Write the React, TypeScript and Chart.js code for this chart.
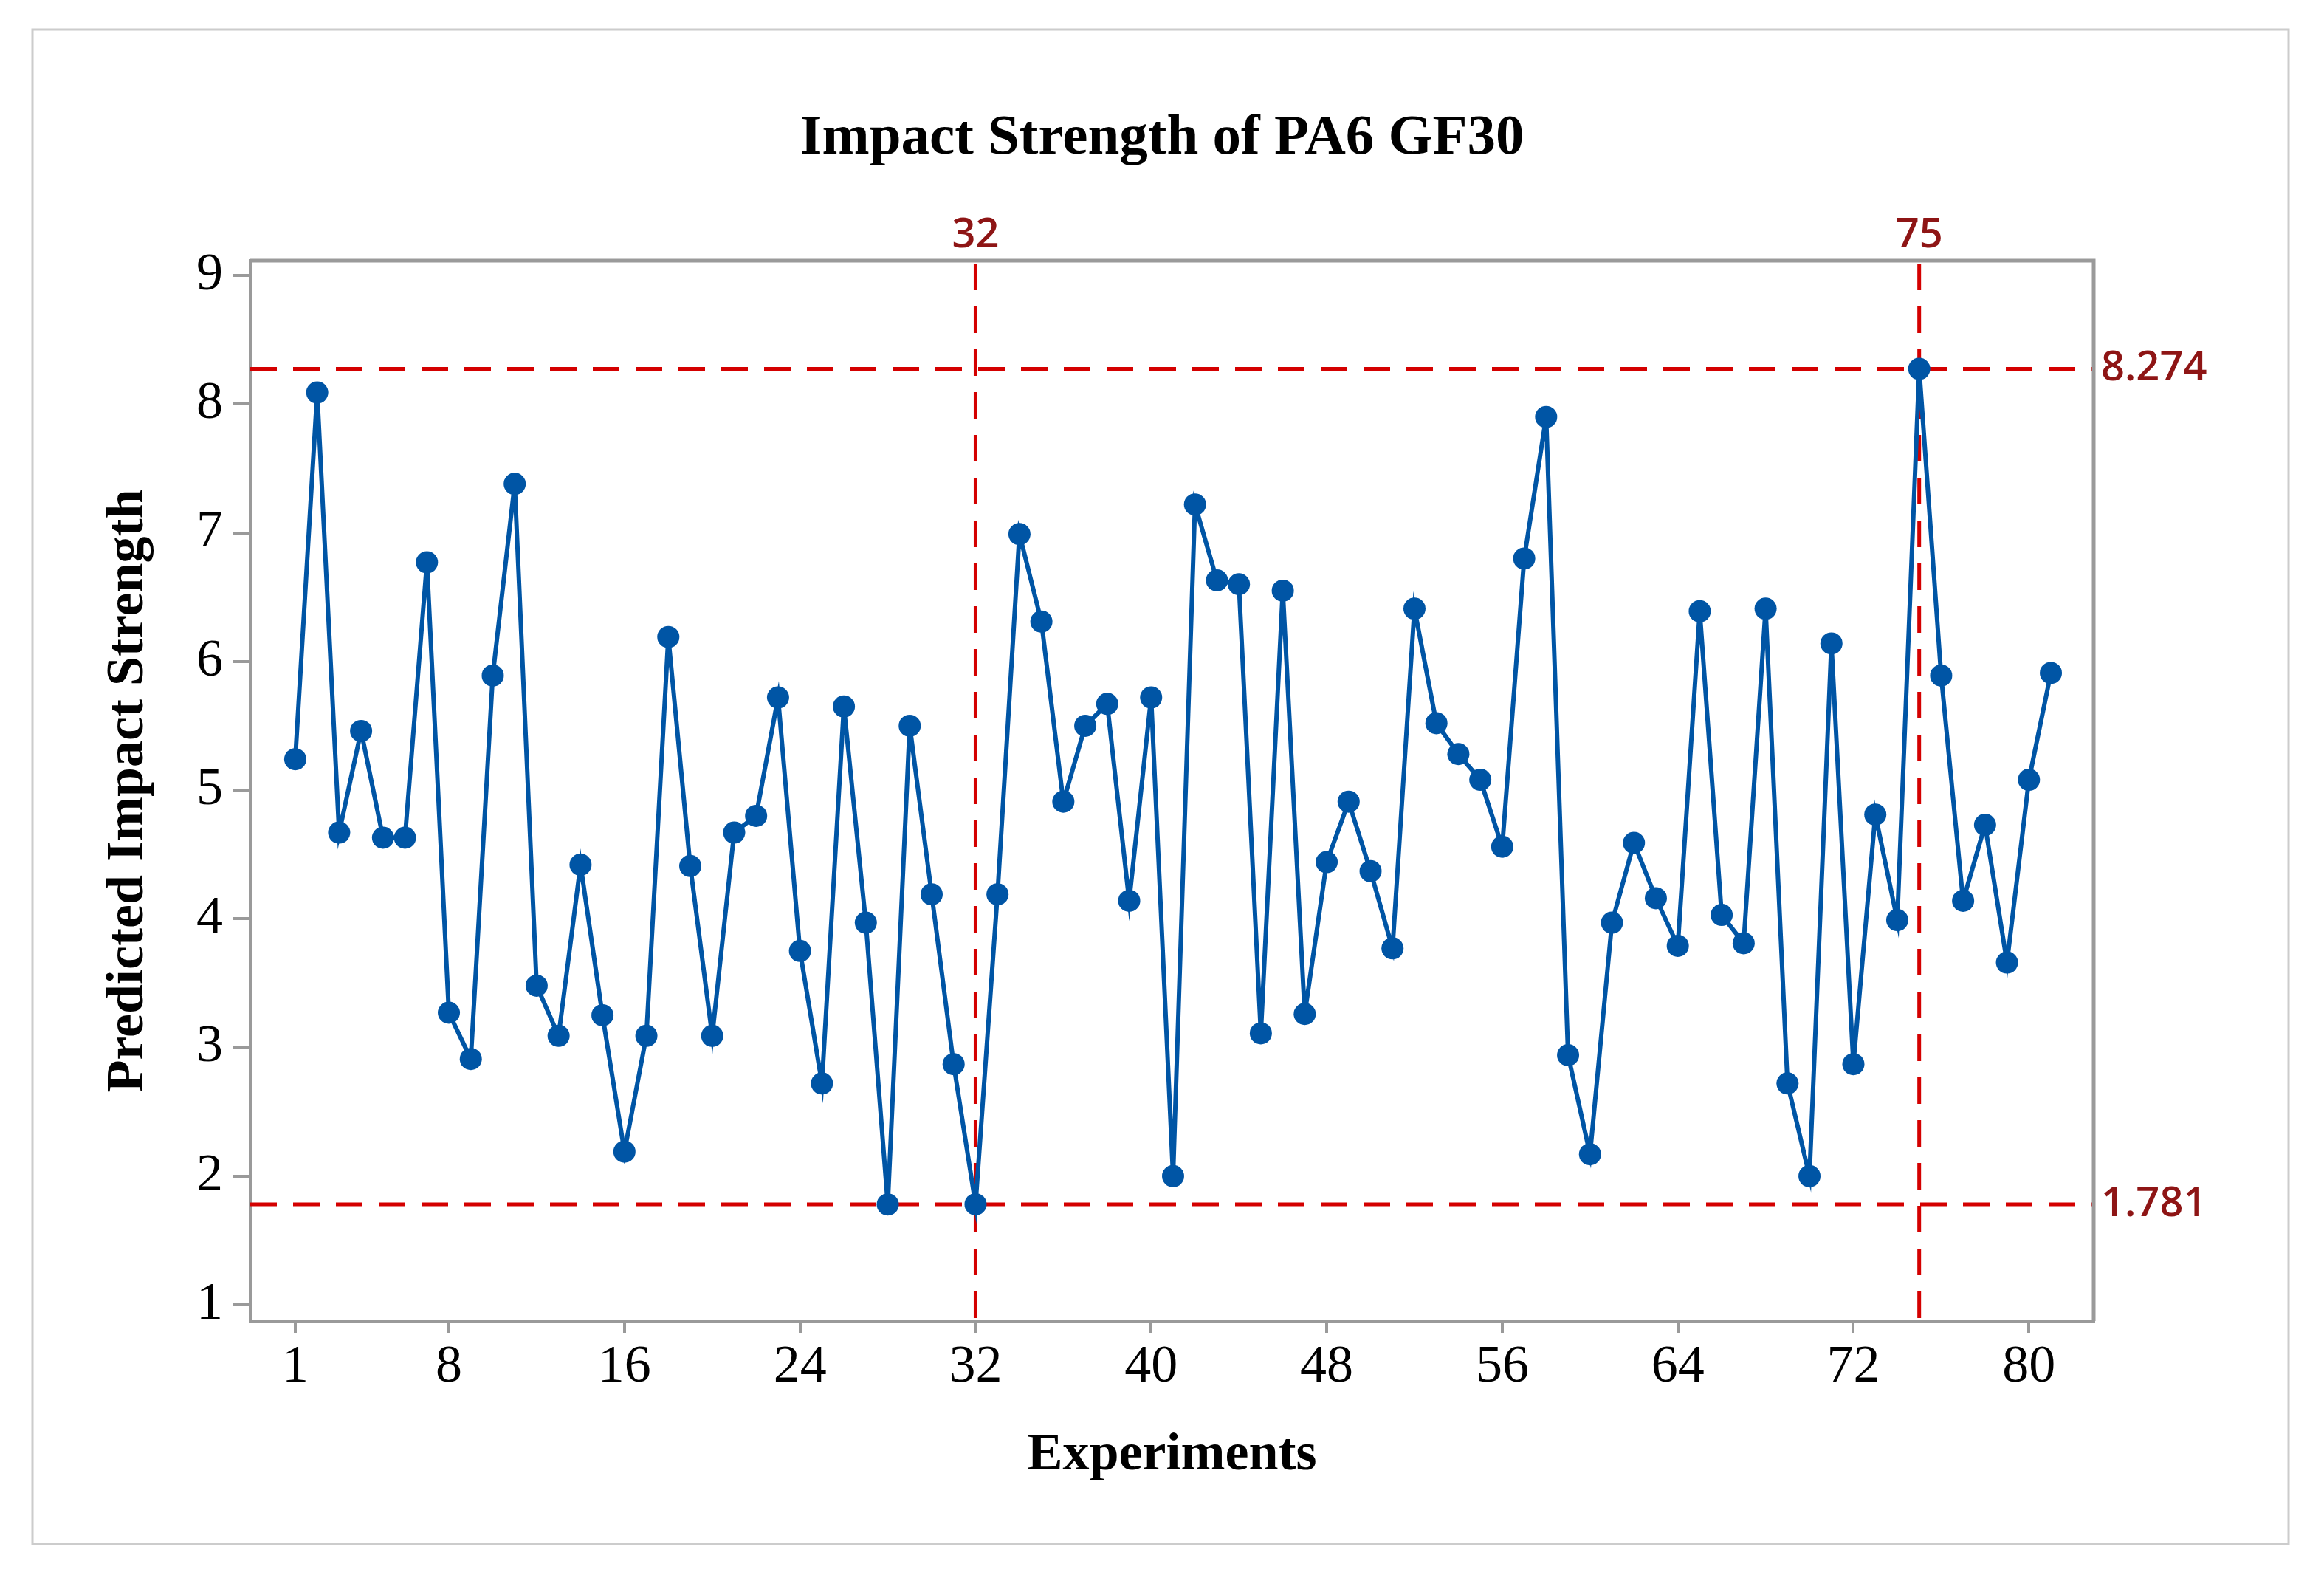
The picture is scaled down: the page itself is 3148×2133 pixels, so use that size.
import { useEffect, useRef } from "react";
import { Chart, registerables, type ChartConfiguration, type Plugin } from "chart.js";

Chart.register(...registerables);

const chartTitle = "Impact Strength of PA6 GF30";

const experiments = [
  1, 2, 3, 4, 5, 6, 7, 8, 9, 10, 11, 12, 13, 14, 15, 16, 17, 18, 19, 20,
  21, 22, 23, 24, 25, 26, 27, 28, 29, 30, 31, 32, 33, 34, 35, 36, 37, 38, 39, 40,
  41, 42, 43, 44, 45, 46, 47, 48, 49, 50, 51, 52, 53, 54, 55, 56, 57, 58, 59, 60,
  61, 62, 63, 64, 65, 66, 67, 68, 69, 70, 71, 72, 73, 74, 75, 76, 77, 78, 79, 80, 81,
];

const impactStrength = [
  5.24, 8.09, 4.67, 5.46, 4.63, 4.63, 6.77, 3.27, 2.91, 5.89,
  7.38, 3.48, 3.09, 4.42, 3.25, 2.19, 3.09, 6.19, 4.41, 3.09,
  4.67, 4.8, 5.72, 3.75, 2.72, 5.65, 3.97, 1.78, 5.5, 4.19,
  2.87, 1.781, 4.19, 6.99, 6.31, 4.91, 5.5, 5.67, 4.14, 5.72,
  2.0, 7.22, 6.63, 6.6, 3.11, 6.55, 3.26, 4.44, 4.91, 4.37,
  3.77, 6.41, 5.52, 5.28, 5.08, 4.56, 6.8, 7.9, 2.94, 2.17,
  3.97, 4.59, 4.16, 3.79, 6.39, 4.03, 3.81, 6.41, 2.72, 2.0,
  6.14, 2.87, 4.81, 3.99, 8.274, 5.89, 4.14, 4.73, 3.66, 5.08, 5.91,
];

const xTickValues = [1, 8, 16, 24, 32, 40, 48, 56, 64, 72, 80];
const yTickValues = [1, 2, 3, 4, 5, 6, 7, 8, 9];

// reference lines: experiment of min / max, and the min / max value
const refExperiments = [32, 75];
const refValues = [8.274, 1.781];

const serif = "'Liberation Serif', 'Times New Roman', serif";
const axisGray = "#9a9a9a";
const refRed = "#d40000";
const refLabelColor = "#8e1515";

const refLinePlugin: Plugin<"line"> = {
  id: "refLines",
  beforeDraw(chart) {
    const { ctx, width, height } = chart;
    ctx.save();
    ctx.fillStyle = "#ffffff";
    ctx.fillRect(0, 0, width, height);
    ctx.strokeStyle = "#cccccc";
    ctx.lineWidth = 3;
    ctx.strokeRect(44, 40, 3056, 2051);

    ctx.fillStyle = "#000000";
    ctx.font = `bold 77px ${serif}`;
    ctx.textAlign = "center";
    ctx.textBaseline = "middle";
    ctx.fillText(chartTitle, width / 2, 188);
    ctx.restore();
  },
  beforeDatasetsDraw(chart) {
    const { ctx, chartArea, scales } = chart;
    ctx.save();
    ctx.strokeStyle = refRed;
    ctx.lineWidth = 5;
    ctx.setLineDash([36, 22]);
    refValues.forEach((v) => {
      const y = scales.y.getPixelForValue(v);
      ctx.beginPath();
      ctx.moveTo(chartArea.left, y);
      ctx.lineTo(chartArea.right, y);
      ctx.stroke();
    });
    refExperiments.forEach((v) => {
      const x = scales.x.getPixelForValue(v);
      ctx.beginPath();
      ctx.moveTo(x, chartArea.top + 4);
      ctx.lineTo(x, chartArea.bottom);
      ctx.stroke();
    });
    ctx.restore();
  },
  afterDraw(chart) {
    const { ctx, chartArea, scales } = chart;
    ctx.save();
    // top and right edges of the frame
    ctx.strokeStyle = axisGray;
    ctx.lineWidth = 5;
    ctx.beginPath();
    ctx.moveTo(chartArea.left, chartArea.top);
    ctx.lineTo(chartArea.right, chartArea.top);
    ctx.lineTo(chartArea.right, chartArea.bottom);
    ctx.stroke();

    ctx.fillStyle = refLabelColor;
    ctx.font = "600 56px 'Open Sans', 'Noto Sans', sans-serif";
    ctx.textAlign = "center";
    ctx.textBaseline = "alphabetic";
    refExperiments.forEach((v) => {
      ctx.fillText(String(v), scales.x.getPixelForValue(v), chartArea.top - 18);
    });
    ctx.textAlign = "left";
    ctx.textBaseline = "middle";
    refValues.forEach((v) => {
      ctx.fillText(v.toFixed(3), chartArea.right + 10, scales.y.getPixelForValue(v));
    });
    ctx.restore();
  },
};

const config: ChartConfiguration<"line"> = {
  type: "line",
  data: {
    datasets: [
      {
        label: "Predicted Impact Strength",
        data: experiments.map((x, i) => ({ x, y: impactStrength[i] })),
        borderColor: "#0055a5",
        backgroundColor: "#0055a5",
        borderWidth: 6,
        pointRadius: 15,
        pointBorderWidth: 0,
        pointBackgroundColor: "#0055a5",
        tension: 0,
      },
    ],
  },
  options: {
    animation: false,
    responsive: false,
    devicePixelRatio: 1,
    layout: {
      padding: { left: 0, right: 312, top: 353, bottom: 0 },
    },
    plugins: {
      legend: { display: false },
      tooltip: { enabled: false },
      title: { display: false },
    },
    scales: {
      x: {
        type: "linear",
        min: -1.05,
        max: 82.95,
        afterBuildTicks(scale) {
          scale.ticks = xTickValues.map((value) => ({ value }));
        },
        afterFit(scale) {
          scale.height = 344;
        },
        grid: {
          drawOnChartArea: false,
          drawTicks: true,
          tickLength: 16,
          color: axisGray,
          lineWidth: 4,
        },
        border: { display: true, color: axisGray, width: 5 },
        ticks: {
          color: "#000000",
          font: { family: serif, size: 72 },
          padding: 4,
          maxRotation: 0,
          autoSkip: false,
        },
        title: {
          display: true,
          text: "Experiments",
          color: "#000000",
          font: { family: serif, size: 72, weight: "bold" },
          padding: 118,
        },
      },
      y: {
        type: "linear",
        min: 0.874,
        max: 9.115,
        afterBuildTicks(scale) {
          scale.ticks = yTickValues.map((value) => ({ value }));
        },
        afterFit(scale) {
          scale.width = 339;
        },
        grid: {
          drawOnChartArea: false,
          drawTicks: true,
          tickLength: 24,
          color: axisGray,
          lineWidth: 4,
        },
        border: { display: true, color: axisGray, width: 5 },
        ticks: {
          color: "#000000",
          font: { family: serif, size: 72 },
          padding: 13,
        },
        title: {
          display: true,
          text: "Predicted Impact Strength",
          color: "#000000",
          font: { family: serif, size: 72, weight: "bold" },
          padding: 131,
        },
      },
    },
  },
  plugins: [refLinePlugin],
};

export default function App() {
  const canvasRef = useRef<HTMLCanvasElement>(null);

  useEffect(() => {
    document.body.style.margin = "0";
    if (!canvasRef.current) {
      return;
    }
    const chart = new Chart(canvasRef.current, config);
    return () => {
      chart.destroy();
    };
  }, []);

  return (
    <div style={{ width: 3148, height: 2133 }}>
      <canvas ref={canvasRef} width={3148} height={2133} style={{ display: "block" }} />
    </div>
  );
}
